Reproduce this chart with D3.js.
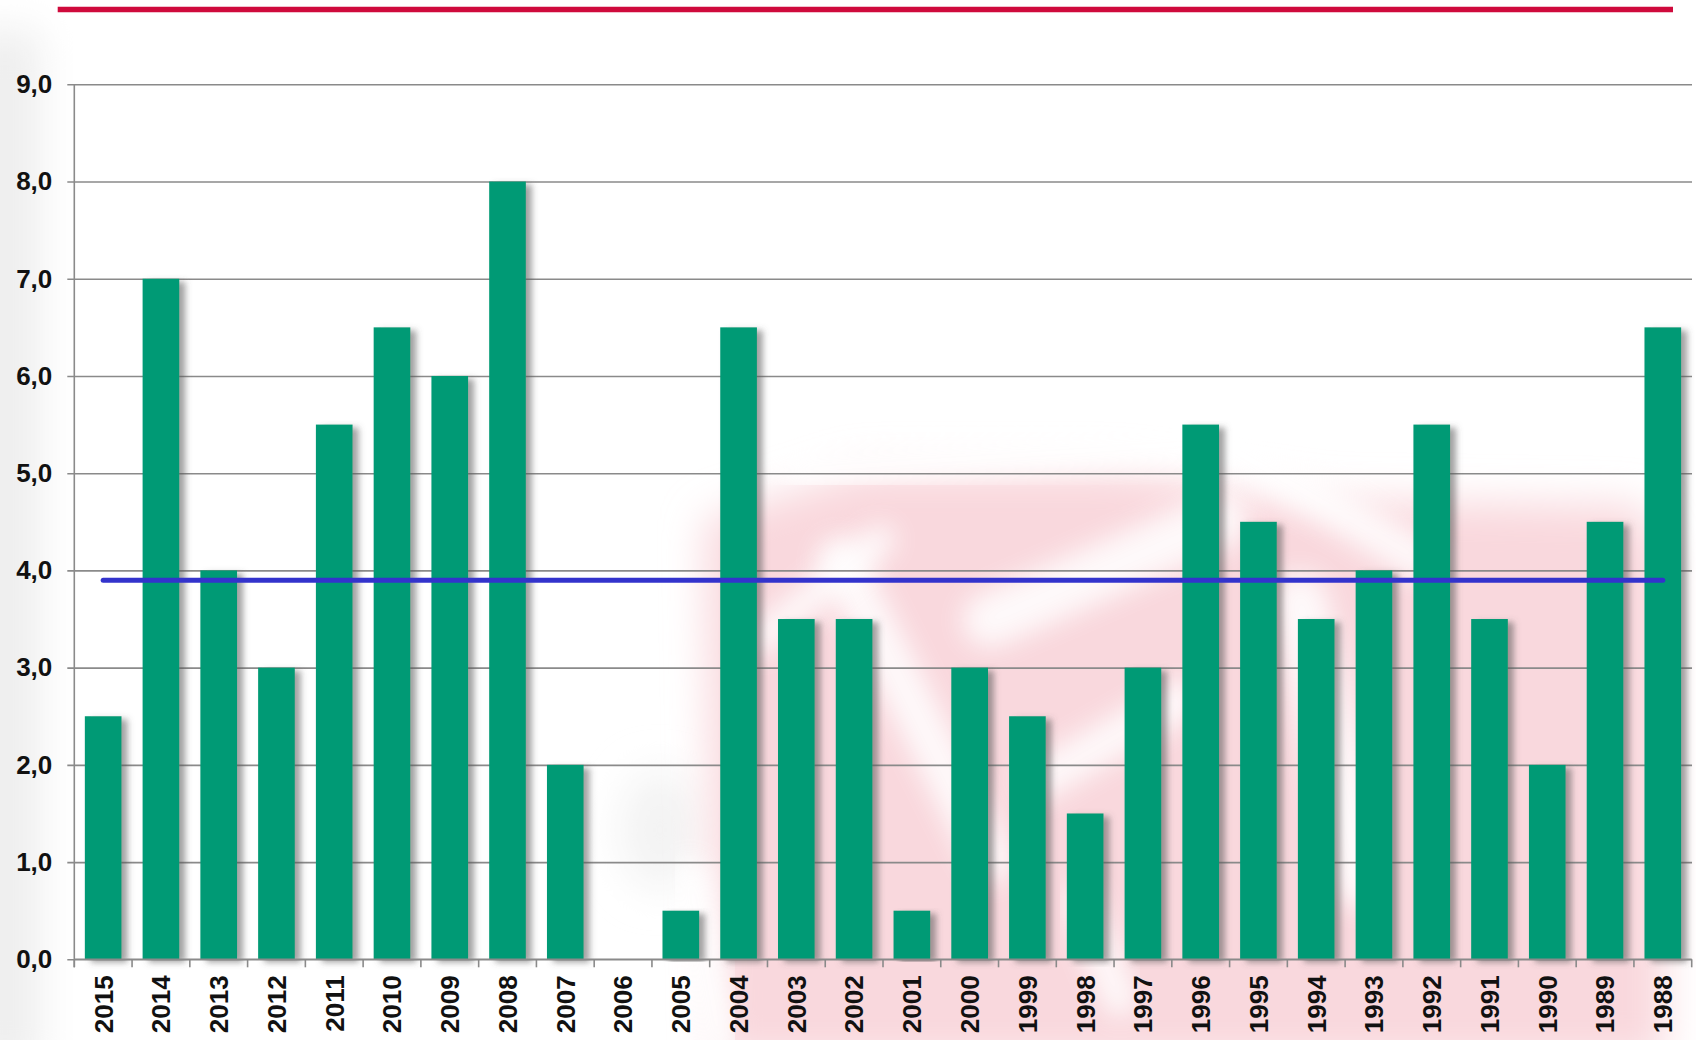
<!DOCTYPE html>
<html>
<head>
<meta charset="utf-8">
<script src="https://cdn.jsdelivr.net/npm/d3@7"></script>
<style>
  html, body { margin: 0; padding: 0; background: #fff; }
  svg { display: block; font-family: "Liberation Sans", Arial, sans-serif; }
</style>
</head>
<body>
<svg class="chart"></svg>
<script>
const width = 1696,
  height = 1040;
const years = ['2015', '2014', '2013', '2012', '2011', '2010', '2009', '2008', '2007', '2006',
  '2005', '2004', '2003', '2002', '2001', '2000', '1999', '1998', '1997', '1996',
  '1995', '1994', '1993', '1992', '1991', '1990', '1989', '1988'];
const values = [2.5, 7.0, 4.0, 3.0, 5.5, 6.5, 6.0, 8.0, 2.0, 0.0,
  0.5, 6.5, 3.5, 3.5, 0.5, 3.0, 2.5, 1.5, 3.0, 5.5,
  4.5, 3.5, 4.0, 5.5, 3.5, 2.0, 4.5, 6.5];
const averageLine = [3.9];
const yTicks = [0, 1, 2, 3, 4, 5, 6, 7, 8, 9];

const data = years.map((y, i) => ({ year: y, value: values[i] }));

const plotLeft = 74.3, plotRight = 1691.7, plotTop = 84.3, plotBottom = 959.3;

let x = d3.scaleBand()
  .domain(years)
  .range([plotLeft, plotRight])
  .paddingInner(0.365)
  .paddingOuter(0.1825);
let y = d3.scaleLinear()
  .domain([0, 9])
  .range([plotBottom, plotTop]);

const fmt = d3.formatLocale({ decimal: ",", thousands: ".", grouping: [3], currency: ["", ""] }).format(".1f");

let chart = d3.select(".chart")
  .attr("width", width)
  .attr("height", height);

let defs = chart.append("defs");
defs.append("filter").attr("id", "blurBig")
  .attr("x", "-50%").attr("y", "-50%").attr("width", "200%").attr("height", "200%")
  .append("feGaussianBlur").attr("stdDeviation", 20);
defs.append("filter").attr("id", "blurMid")
  .attr("x", "-50%").attr("y", "-50%").attr("width", "200%").attr("height", "200%")
  .append("feGaussianBlur").attr("stdDeviation", 13);
let shadow = defs.append("filter").attr("id", "barShadow")
  .attr("x", "-20%").attr("y", "-5%").attr("width", "160%").attr("height", "110%");
shadow.append("feDropShadow")
  .attr("dx", 6).attr("dy", 3)
  .attr("stdDeviation", 3)
  .attr("flood-color", "#555")
  .attr("flood-opacity", 0.55);

// faint background watermark
let bg = chart.append("g");
bg.append("rect")
  .attr("x", -30).attr("y", 30).attr("width", 70).attr("height", 1040)
  .attr("fill", "#eeeeee")
  .attr("filter", "url(#blurBig)");
bg.append("ellipse")
  .attr("cx", 660).attr("cy", 830).attr("rx", 40).attr("ry", 60)
  .attr("fill", "#f3f3f3")
  .attr("filter", "url(#blurBig)");
bg.append("path")
  .attr("d", "M705,520 L860,470 L1120,470 L1330,500 L1640,505 L1665,560 L1665,1060 L715,1060 Z")
  .attr("fill", "#f9d8dd")
  .attr("filter", "url(#blurBig)");
const whiteStreaks = [
  { d: "M800,470 L1240,440", w: 40 },
  { d: "M840,560 L990,860", w: 45 },
  { d: "M990,620 L1220,520", w: 55 },
  { d: "M760,640 L880,540", w: 30 },
  { d: "M1300,600 L1360,880", w: 55 },
  { d: "M1040,780 L1180,700", w: 40 },
  { d: "M1200,430 L1420,560", w: 40 },
  { d: "M690,880 L720,1040", w: 40 },
  { d: "M1080,900 L1120,1000", w: 35 }
];
bg.selectAll("path.streak")
  .data(whiteStreaks)
  .enter().append("path")
  .attr("class", "streak")
  .attr("d", d => d.d)
  .attr("stroke", "#fff")
  .attr("stroke-width", d => d.w)
  .attr("stroke-linecap", "round")
  .attr("opacity", 0.85)
  .attr("filter", "url(#blurMid)");

// red rule at top
chart.append("line")
  .attr("x1", 57.7).attr("x2", 1673)
  .attr("y1", 9.5).attr("y2", 9.5)
  .attr("stroke", "#cf0a3c")
  .attr("stroke-width", 5.5);

// gridlines + y axis
let yAxis = d3.axisLeft(y)
  .tickValues(yTicks)
  .tickSize(-(plotRight - plotLeft) - 0.3)
  .tickPadding(22)
  .tickFormat(fmt);
let gy = chart.append("g")
  .attr("transform", `translate(${plotLeft},0)`)
  .call(yAxis);
gy.select(".domain").remove();
gy.selectAll(".tick line")
  .attr("x1", -7)
  .attr("stroke", "#8a8a8a")
  .attr("stroke-width", 1.6);
gy.selectAll(".tick text")
  .attr("font-size", 26)
  .attr("font-weight", "bold")
  .attr("fill", "#111");

// vertical axis line
chart.append("line")
  .attr("x1", plotLeft).attr("x2", plotLeft)
  .attr("y1", plotTop).attr("y2", plotBottom + 8)
  .attr("stroke", "#8a8a8a")
  .attr("stroke-width", 1.6);

// bars
chart.append("g").selectAll("rect")
  .data(data)
  .enter().append("rect")
  .attr("x", d => x(d.year))
  .attr("y", d => y(d.value))
  .attr("width", x.bandwidth())
  .attr("height", d => y(0) - y(d.value))
  .attr("fill", "#039a74")
  .attr("filter", d => d.value > 0 ? "url(#barShadow)" : null);

// x axis
let xAxis = d3.axisBottom(x).tickSize(0).tickPadding(0);
let gx = chart.append("g")
  .attr("transform", `translate(0,${plotBottom})`)
  .call(xAxis);
gx.select(".domain")
  .attr("d", `M${plotLeft},0H${plotRight}`)
  .attr("stroke", "#8a8a8a")
  .attr("stroke-width", 1.6);
gx.selectAll(".tick text")
  .attr("transform", "rotate(-90)")
  .attr("x", -16)
  .attr("y", 0)
  .attr("dy", "0.36em")
  .attr("text-anchor", "end")
  .attr("font-size", 26)
  .attr("font-weight", "bold")
  .attr("fill", "#111");

// boundary ticks between categories
const gap = (x.step() - x.bandwidth()) / 2;
let bounds = years.map(d => x(d) - gap).concat([plotRight]);
gx.selectAll("line.bound")
  .data(bounds)
  .enter().append("line")
  .attr("class", "bound")
  .attr("x1", d => d).attr("x2", d => d)
  .attr("y1", 0).attr("y2", 8)
  .attr("stroke", "#8a8a8a")
  .attr("stroke-width", 1.6);

// average line
chart.append("g").selectAll("line")
  .data(averageLine)
  .enter().append("line")
  .attr("x1", x(years[0]) + x.bandwidth() / 2)
  .attr("x2", x(years[years.length - 1]) + x.bandwidth() / 2)
  .attr("y1", d => y(d)).attr("y2", d => y(d))
  .attr("stroke", "#3333cc")
  .attr("stroke-width", 5)
  .attr("stroke-linecap", "round");
</script>
</body>
</html>
